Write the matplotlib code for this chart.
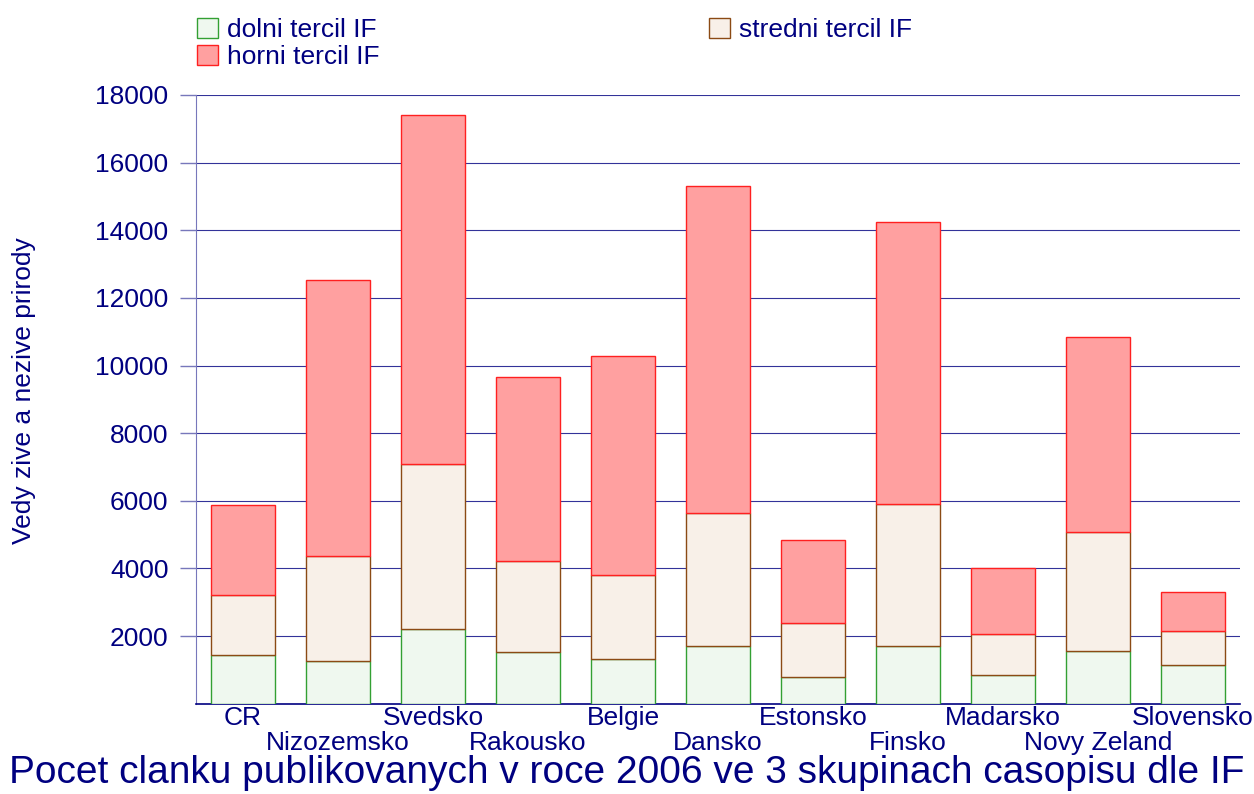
import numpy as np
import matplotlib.pyplot as plt
from matplotlib.patches import Patch

plt.rcParams['font.family'] = ['Liberation Sans', 'DejaVu Sans']

zeme = ['CR', 'Nizozemsko', 'Svedsko', 'Rakousko', 'Belgie', 'Dansko',
        'Estonsko', 'Finsko', 'Madarsko', 'Novy Zeland', 'Slovensko']
# cumulative tops
dolni = np.array([1440, 1263, 2210, 1530, 1322, 1707, 790, 1707, 849, 1559, 1145])
stredni_top = np.array([3216, 4370, 7092, 4221, 3808, 5642, 2387, 5908, 2062, 5080, 2150])
horni_top = np.array([5880, 12535, 17414, 9666, 10287, 15316, 4843, 14249, 4015, 10849, 3305])
stredni = stredni_top - dolni
horni = horni_top - stredni_top

navy = '#000080'
c_dol = ('#eff8ef', '#33a033')
c_str = ('#f8f0e8', '#8b4a14')
c_hor = ('#ffa0a0', '#ff2020')

fig = plt.figure(figsize=(12.54, 7.94), dpi=100)
ax = fig.add_axes([0.156, 0.1137, 0.833, 0.7667])

x = np.arange(len(zeme))
w = 0.67
ax.bar(x, dolni, w, color=c_dol[0], edgecolor=c_dol[1], linewidth=1, zorder=3)
ax.bar(x, stredni, w, bottom=dolni, color=c_str[0], edgecolor=c_str[1], linewidth=1, zorder=3)
ax.bar(x, horni, w, bottom=dolni + stredni, color=c_hor[0], edgecolor=c_hor[1], linewidth=1, zorder=3)

ax.set_xlim(-0.5, len(zeme) - 0.5)
ax.set_ylim(0, 18000)
ax.set_yticks(np.arange(2000, 18001, 2000))
ax.grid(axis='y', color=navy, linewidth=0.8, alpha=0.8, zorder=0)
ax.tick_params(axis='y', labelcolor=navy, labelsize=19, length=11.5, pad=8, width=1, color='#7777bb')
ax.set_xticks([])
for s in ['top', 'right']:
    ax.spines[s].set_visible(False)
ax.spines['left'].set_color('#7777bb')
ax.spines['bottom'].set_color(navy)
ax.spines['bottom'].set_linewidth(1.2)

for i, z in enumerate(zeme):
    ax.text(i, -423 if i % 2 == 0 else -1163, z, ha='center', va='center',
            color=navy, fontsize=19, clip_on=False)

ax.set_ylabel('Vedy zive a nezive prirody', color=navy, fontsize=19)
ax.yaxis.set_label_coords(-0.153, 0.514)

def legenda(items, xpos):
    hs = [Patch(facecolor=f, edgecolor=e, label=l) for l, (f, e) in items]
    lg = fig.legend(handles=hs, loc='upper left', bbox_to_anchor=(xpos, 0.981),
                    frameon=False, fontsize=19, handlelength=0.8, handleheight=0.8,
                    handletextpad=0.35, labelspacing=0.1, borderpad=0.1, borderaxespad=0)
    for t in lg.get_texts():
        t.set_color(navy)
    return lg

legenda([('dolni tercil IF', c_dol), ('horni tercil IF', c_hor)], 0.155)
legenda([('stredni tercil IF', c_str)], 0.563)

fig.text(0.5, 0.026, 'Pocet clanku publikovanych v roce 2006 ve 3 skupinach casopisu dle IF',
         ha='center', va='center', color=navy, fontsize=28)

fig.savefig('out.png', dpi=100)
